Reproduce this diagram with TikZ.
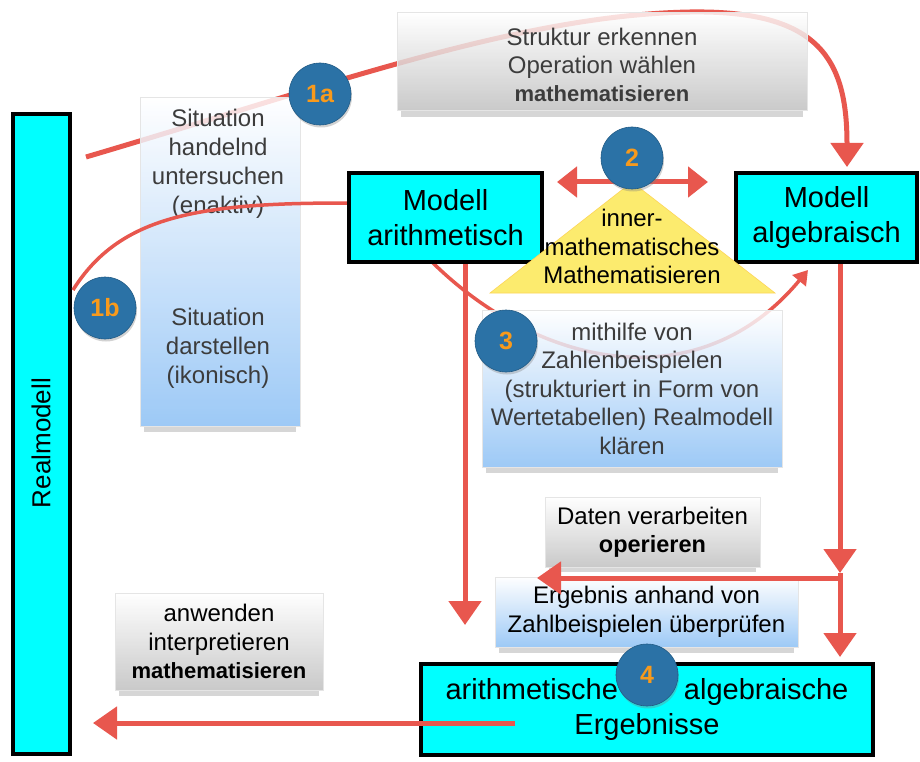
\documentclass[tikz,border=0pt]{standalone}
\usepackage{fontspec}
\setmainfont{Liberation Sans}
\usetikzlibrary{arrows.meta,calc,shadows}
\definecolor{arrowred}{HTML}{E8574E}
\definecolor{numblue}{HTML}{2B72A6}
\definecolor{numorange}{HTML}{F89A1C}
\definecolor{boxblue}{HTML}{88BEF5}
\definecolor{boxgray}{HTML}{BEBEBE}
\definecolor{txtgray}{HTML}{3C3C3C}
\definecolor{triyellow}{HTML}{FCEB6E}
\definecolor{aqua}{RGB}{0,255,255}
\begin{document}
\begin{tikzpicture}[x=1pt,y=-1pt,
  cyanbox/.style={draw=black, line width=4.5pt, fill=aqua, inner sep=0pt, align=center, font=\fontsize{29}{35}\selectfont},
  shadebox/.style={draw=black!10, line width=1pt, fill opacity=0.82, text opacity=1, inner sep=0pt, align=center, font=\fontsize{24}{28.5}\selectfont},
  bluebox/.style={shadebox, top color=white, bottom color=boxblue},
  graybox/.style={shadebox, top color=white, bottom color=boxgray},
  gtext/.style={align=center, inner sep=0pt, text=txtgray, font=\fontsize{24}{29}\selectfont},
  boxshadow/.style={fill=black!16},
  num/.style={circle, fill=numblue, draw=numblue!80!black, line width=0.6pt, minimum size=62pt, inner sep=0pt, text=numorange, font=\bfseries\fontsize{25}{25}\selectfont, drop shadow={opacity=0.35, shadow xshift=1pt, shadow yshift=-2.5pt}},
  redline/.style={draw=arrowred, line width=5pt},
  redarrow/.style={redline, -{Triangle[length=24pt,width=32pt]}},
]
\useasboundingbox (0,0) rectangle (920,762);
\fill[white] (0,0) rectangle (920,762);

% arrows lying beneath the boxes
\coordinate (s1a) at (86,157);
\coordinate (t1a) at (847,167);
\draw[redarrow] (s1a) .. controls (330,85) and (520,15) .. (690,12) .. controls (820,10) and (847,60) .. (t1a);
\coordinate (s3) at (430,260);
\coordinate (t3) at (808,270);
\draw[redline, line width=3.5pt, -{Triangle[length=14pt,width=17pt]}] (s3) .. controls (540,370) and (700,400) .. (t3);

% Realmodell bar
\node[cyanbox, minimum width=57pt, minimum height=640pt] (real) at (41.5,434) {};
\node[rotate=90, inner sep=0pt, font=\fontsize{26}{26}\selectfont] (realtxt) at (41,443) {Realmodell};

% left blue box
\fill[boxshadow] (144,426) rectangle (296,432);
\node[bluebox, minimum width=160pt, minimum height=328pt] (sit) at (220,262) {};
\node[gtext] (sit1) at (218,163.5) {Situation\\handelnd\\untersuchen\\(enaktiv)};
\node[gtext] (sit2) at (218,348) {Situation\\darstellen\\(ikonisch)};

% top gray box
\fill[boxshadow] (401,111) rectangle (803,117);
\node[graybox, minimum width=410pt, minimum height=98pt] (struk) at (602,62) {};
\node[gtext, font=\fontsize{24}{28}\selectfont] (struktxt) at (602,65) {Struktur erkennen\\Operation wählen\\{\bfseries\fontsize{22}{28}\selectfont mathematisieren}};

% model boxes
\node[cyanbox, minimum width=193pt, minimum height=89pt] (arith) at (445.5,217.5) {Modell\\arithmetisch};
\node[cyanbox, minimum width=181pt, minimum height=89pt] (alg) at (826.5,217.5) {Modell\\algebraisch};

% triangle
\fill[triyellow, draw=triyellow!80!orange, line width=0.6pt] (632,182) -- (775,293) -- (490,293) -- cycle;
\node[align=center, inner sep=0pt, font=\fontsize{24}{28.5}\selectfont] (tri) at (632,246.5) {inner-\\mathematisches\\Mathematisieren};

% box 3
\fill[boxshadow] (486,467) rectangle (778,473);
\node[bluebox, minimum width=300pt, minimum height=157pt, text=txtgray] (bx3) at (632,388.5) {mithilfe von\\Zahlenbeispielen\\(strukturiert in Form von\\Wertetabellen) Realmodell\\klären};

% Daten verarbeiten
\fill[boxshadow] (549,567) rectangle (756,572);
\node[graybox, minimum width=215pt, minimum height=70pt, text=black] (daten) at (652.5,532) {Daten verarbeiten\\{\bfseries\fontsize{23.5}{28.5}\selectfont operieren}};

% Ergebnis box
\fill[boxshadow] (499,647) rectangle (794,653);
\node[bluebox, minimum width=303pt, minimum height=70pt, text=black] (erg) at (646.5,612) {Ergebnis anhand von\\Zahlbeispielen überprüfen};

% anwenden box
\fill[boxshadow] (119,690) rectangle (319,696);
\node[graybox, minimum width=208pt, minimum height=97pt, text=black] (anw) at (219,641.5) {anwenden\\interpretieren\\{\bfseries\fontsize{22}{28.5}\selectfont mathematisieren}};

% result box
\node[cyanbox, minimum width=452pt, minimum height=91pt] (res) at (647,709.5) {arithmetische\hspace{66pt}algebraische\\Ergebnisse};

% arrows on top
\coordinate (s1b) at (73,290);
\draw[redline, line width=3.5pt] (s1b) .. controls (120,215) and (200,203) .. ($(arith.west)+(0,-14.5)$);
\coordinate (va) at (465,625);
\draw[redarrow] (arith.south -| va) -- (va);
\coordinate (vb1) at (840,573);
\coordinate (vb2) at (840,657);
\draw[redarrow] (alg.south -| vb1) -- (vb1);
\draw[redarrow] (vb1) -- (vb2);
\coordinate (hb) at (537,578);
\draw[redarrow] (hb -| vb1) -- (hb);
\coordinate (bs) at (515,723);
\coordinate (bl) at (93,723);
\draw[redarrow] (bs) -- (bl);
\coordinate (dl) at (557,182);
\coordinate (dr) at (708,182);
\draw[redline, {Triangle[length=20pt,width=30pt]}-{Triangle[length=20pt,width=30pt]}] (dl) -- (dr);

% numbered circles
\node[num] (c1a) at (320,94) {1a};
\node[num] (c1b) at (105,308) {1b};
\node[num] (c2) at (632,158) {2};
\node[num] (c3) at (506,341) {3};
\node[num] (c4) at (647,675) {4};
\end{tikzpicture}
\end{document}
